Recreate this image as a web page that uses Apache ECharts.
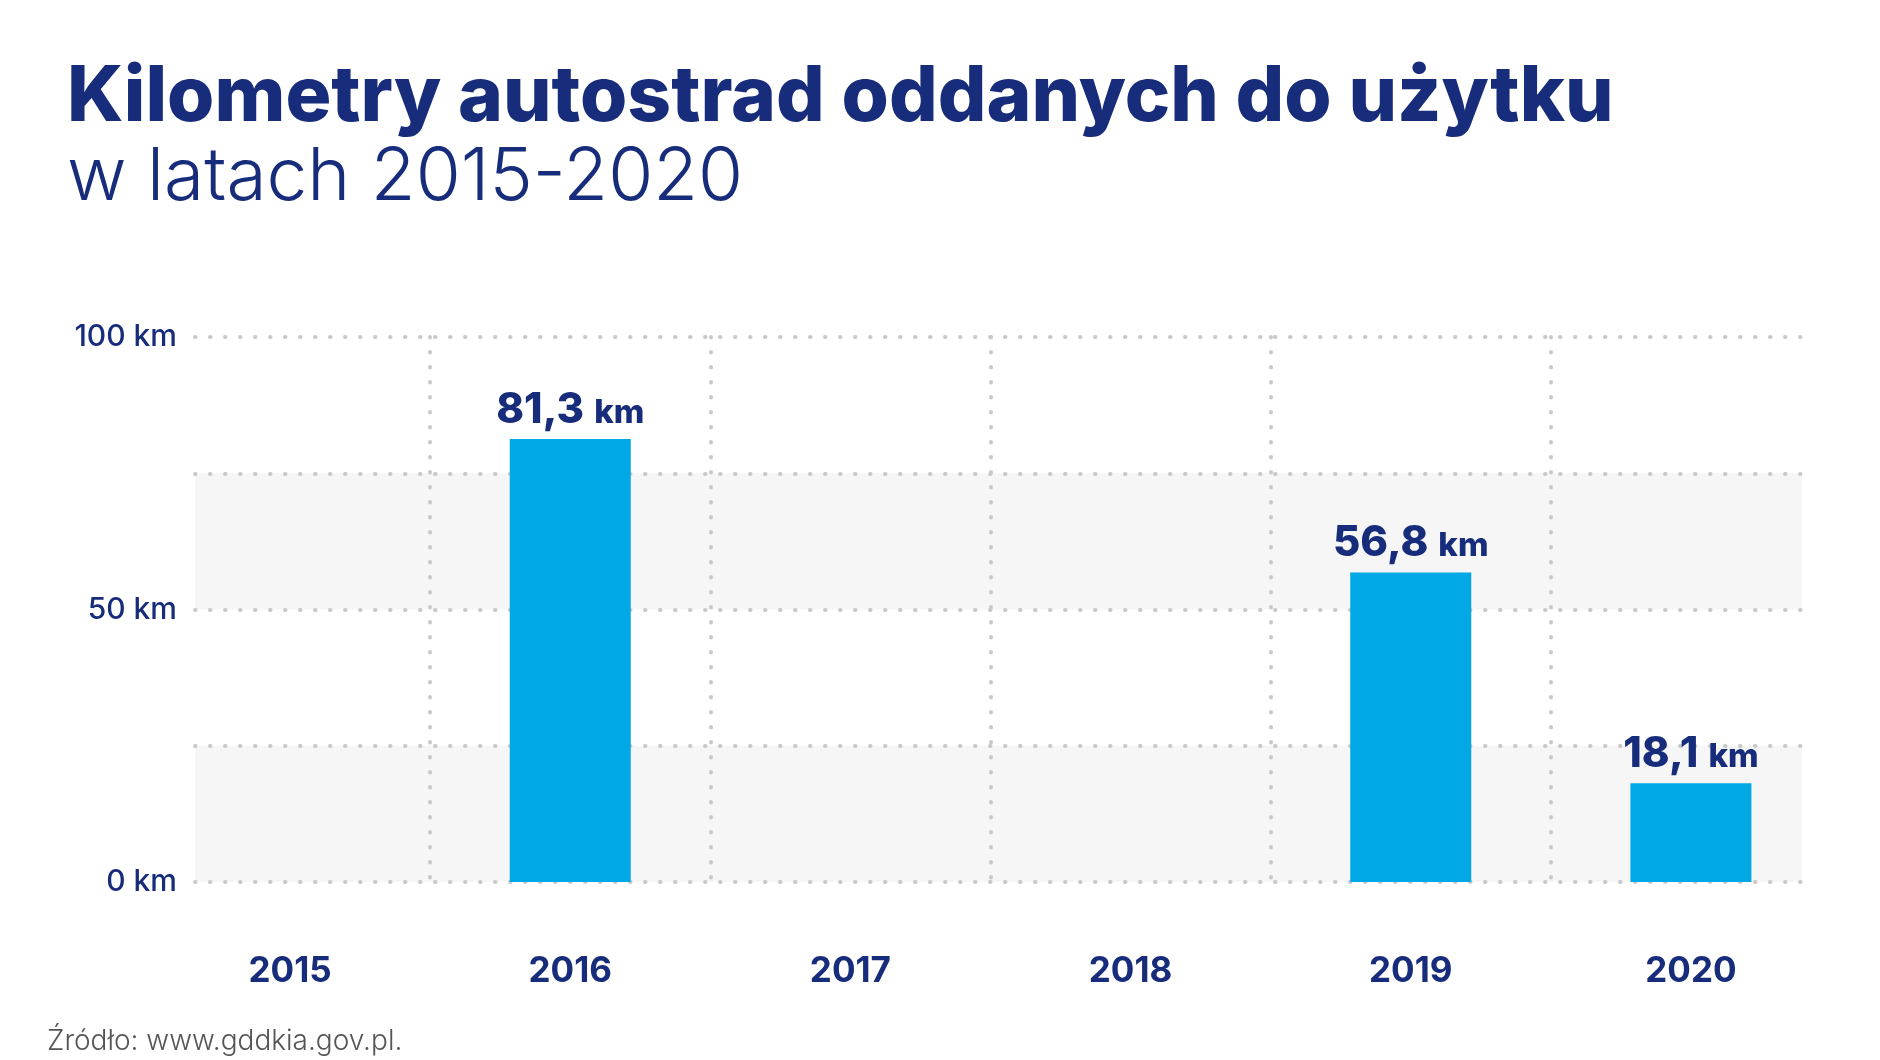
<!DOCTYPE html>
<html style="height: 100%">
  <head>
    <meta charset="utf-8" />
    <title>Kilometry autostrad</title>
    <script src="https://cdn.jsdelivr.net/npm/echarts@6/dist/echarts.min.js"></script>
  </head>
  <body style="height: 100%; margin: 0; background: #fff">
    <div id="container" style="width: 1880px; height: 1060px"></div>

    <script type="text/javascript">
      // dane z wykresu
      var years = ['2015', '2016', '2017', '2018', '2019', '2020'];
      var kmBuilt = [null, 81.3, null, null, 56.8, 18.1];
      var yMax = 100;
      var yStep = 25;
      var yLabelStep = 50;
      // granice kategorii (pionowe linie siatki)
      var edges = years.concat(['']);

      var navy = '#172c7a';
      var font = 'Inter';
      var dots = { color: '#c9c9c9', width: 4, type: [0.5, 14.5], cap: 'round' };

      var dom = document.getElementById('container');
      var myChart = echarts.init(dom);

      myChart.setOption({
        backgroundColor: '#ffffff',
        animation: false,
        title: [
          {
            text: 'Kilometry autostrad oddanych do użytku',
            left: 62,
            top: 54,
            textStyle: { fontFamily: font, fontSize: 76.5, fontWeight: 800, color: navy }
          },
          {
            text: 'w latach 2015-2020',
            left: 62,
            top: 137,
            textStyle: { fontFamily: font, fontSize: 73, fontWeight: 300, color: navy }
          },
          {
            text: 'Źródło: www.gddkia.gov.pl.',
            left: 42,
            top: 1023,
            textStyle: { fontFamily: font, fontSize: 28, fontWeight: 300, color: '#555555' }
          }
        ],
        grid: [
          { left: 150, right: 49, top: 337, bottom: 178 },
          { left: 195, right: 78, top: 337, bottom: 178 }
        ],
        xAxis: [
          {
            type: 'category',
            gridIndex: 0,
            data: years,
            axisLine: { show: false },
            axisTick: { show: false },
            splitLine: { show: false },
            axisLabel: {
              margin: 72,
              fontFamily: font,
              fontSize: 35,
              fontWeight: 700,
              color: navy
            }
          },
          {
            type: 'category',
            gridIndex: 0,
            data: edges,
            boundaryGap: false,
            z: 1,
            axisLine: { show: false },
            axisTick: { show: false },
            axisLabel: { show: false },
            splitLine: {
              show: true,
              interval: function (index) {
                return index > 0 && index < edges.length - 1;
              },
              lineStyle: dots
            }
          },
          {
            type: 'value',
            gridIndex: 1,
            min: 0,
            max: 1,
            show: false
          }
        ],
        yAxis: [
          {
            type: 'value',
            gridIndex: 0,
            min: 0,
            max: yMax,
            show: false
          },
          {
            type: 'value',
            gridIndex: 1,
            min: 0,
            max: yMax,
            interval: yStep,
            z: 0,
            axisLine: { show: false },
            axisTick: { show: false },
            axisLabel: {
              margin: 18,
              fontFamily: font,
              fontSize: 30,
              fontWeight: 500,
              color: navy,
              padding: [0, 0, 10, 0],
              formatter: function (v) {
                return v % yLabelStep === 0 ? v + ' km' : '';
              }
            },
            splitLine: { show: true, lineStyle: dots },
            splitArea: {
              show: true,
              areaStyle: { color: ['#f6f6f6', 'rgba(255,255,255,0)'] }
            }
          }
        ],
        series: [
          {
            type: 'bar',
            xAxisIndex: 0,
            yAxisIndex: 0,
            data: kmBuilt,
            barWidth: 121,
            z: 3,
            itemStyle: { color: '#00a9e5' },
            label: {
              show: true,
              position: 'top',
              distance: 8,
              formatter: function (p) {
                return '{v|' + p.value.toFixed(1).replace('.', ',') + '}{u|km}';
              },
              rich: {
                v: { fontFamily: font, fontSize: 42, fontWeight: 800, color: navy },
                u: { fontFamily: font, fontSize: 33, fontWeight: 800, color: navy, padding: [6, 0, 0, 10] }
              }
            }
          }
        ]
      });
    </script>
  </body>
</html>
